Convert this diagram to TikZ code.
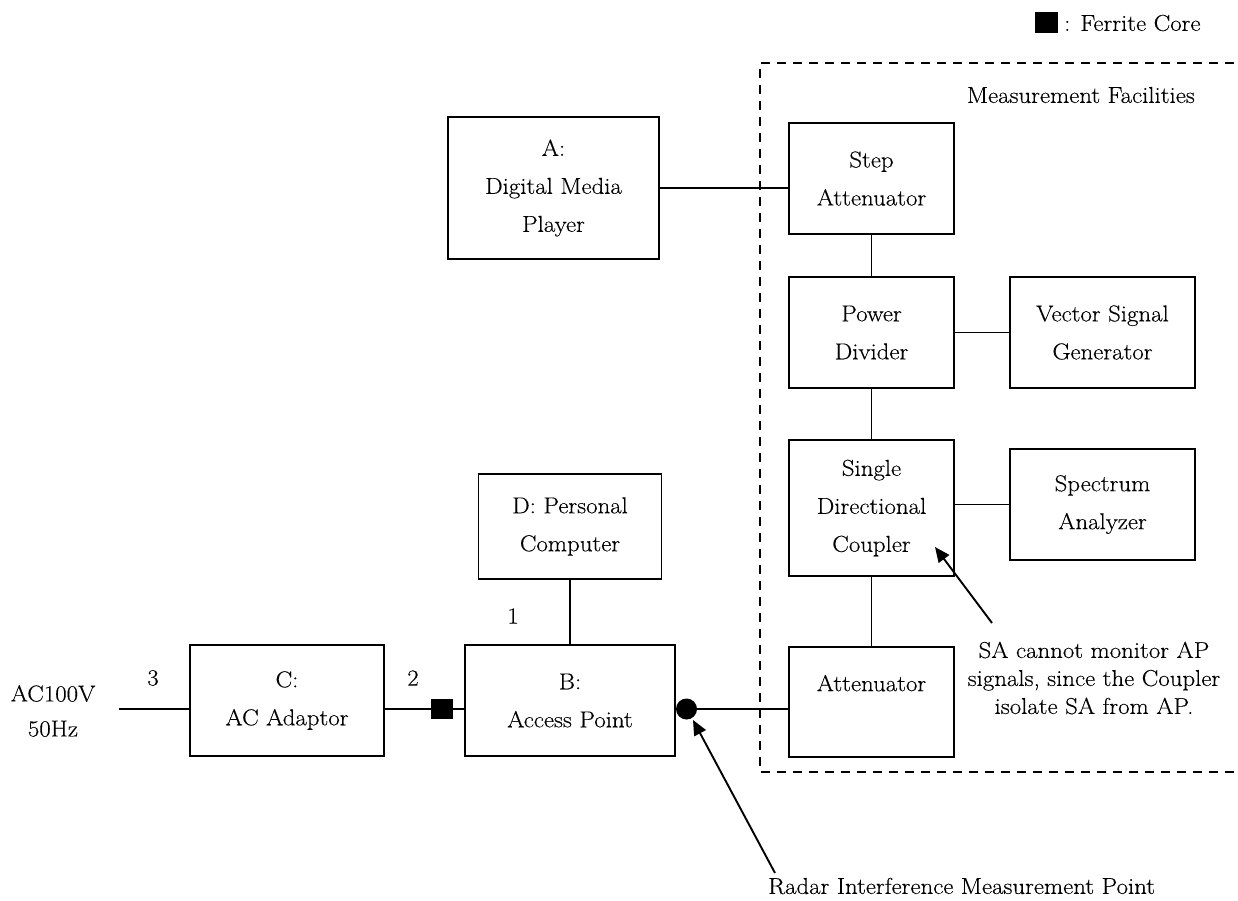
\documentclass[tikz,border=0pt]{standalone}
\usepackage{fontspec}
\setmainfont{Latin Modern Roman}[FakeStretch=1.08, FakeBold=0.3]
\usetikzlibrary{arrows.meta}
\begin{document}
\begin{tikzpicture}[x=1pt,y=-1pt,
  blk/.style={draw, line width=1.9pt, inner sep=0pt, align=center, font=\fontsize{23}{38}\selectfont},
  wire/.style={line width=1.9pt},
  lbl/.style={inner sep=0pt, font=\fontsize{23}{28}\selectfont, align=center},
  pointer/.style={line width=1.9pt, -{Triangle[length=15pt,width=13pt]}},
  frame/.style={line width=2pt, dash pattern=on 9pt off 7pt},
  core/.style={fill=black, inner sep=0pt, minimum width=22pt, minimum height=20pt},
  probe/.style={circle, fill=black, inner sep=0pt, minimum size=21pt}]
\useasboundingbox (0,0) rectangle (1238,901);

% measurement facilities frame
\draw[frame] (1250,63) -- (760,63) -- (760,772) -- (1250,772);
\node[lbl, anchor=east] (mf) at (1195,95) {Measurement Facilities};

% legend
\node[core, minimum width=23pt, minimum height=21pt] (lgsq) at (1046,23) {};
\node[lbl, anchor=west] (lgtx) at (1064,23) {: Ferrite Core};

% boxes
\node[blk, minimum width=211pt, minimum height=142pt] (A) at (553.5,188) {A:\\Digital Media\\Player};
\node[blk, minimum width=165pt, minimum height=111pt] (st) at (871.5,178.5) {Step\\Attenuator};
\node[blk, minimum width=165pt, minimum height=111pt] (pd) at (871.5,332.5) {Power\\Divider};
\node[blk, minimum width=185pt, minimum height=111pt] (vsg) at (1102.5,332.5) {Vector Signal\\Generator};
\node[blk, minimum width=165pt, minimum height=136pt] (cp) at (871.5,508) {Single\\Directional\\Coupler};
\node[blk, minimum width=185pt, minimum height=111pt] (sa) at (1102.5,504.5) {Spectrum\\Analyzer};
\node[blk, minimum width=165pt, minimum height=110pt] (att) at (871.5,702) {Attenuator\\\mbox{}};
\node[blk, minimum width=210pt, minimum height=111pt] (B) at (570,700.5) {B:\\Access Point};
\node[blk, minimum width=194pt, minimum height=111pt] (C) at (287,700.5) {C:\\AC Adaptor};
\node[blk, minimum width=183pt, minimum height=105pt] (D) at (570,526.5) {D: Personal\\Computer};

% main line level
\coordinate (ml) at (0,709);
\coordinate (acin) at (119,709);
\node[core] (fc) at (442,709) {};
\node[probe] (dot) at (686.5,709) {};

% connectors
\draw[wire] (A.east) -- (A.east -| st.west);
\draw[wire] (st.south) -- (pd.north);
\draw[wire] (pd.east) -- (vsg.west);
\draw[wire] (pd.south) -- (cp.north);
\draw[wire] (cp.east |- sa.west) -- (sa.west);
\draw[wire] (cp.south) -- (att.north);
\draw[wire] (D.south) -- (B.north);
\draw[wire] (acin) -- (C.west |- ml);
\draw[wire] (C.east |- ml) -- (fc.west);
\draw[wire] (fc.east) -- (B.west |- ml);
\draw[wire] (dot.center) -- (att.west |- ml);

% labels
\node[lbl] (n3) at (153,678) {3};
\node[lbl] (n2) at (413,678) {2};
\node[lbl] (n1) at (513,616) {1};
\node[lbl, font=\fontsize{23}{35}\selectfont] (ac) at (53,711) {AC100V\\50Hz};

% annotations
\node[lbl] (note) at (1094,678) {SA cannot monitor AP\\signals, since the Coupler\\isolate SA from AP.};
\coordinate (p1s) at (992,623);
\coordinate (p1e) at (935,547);
\draw[pointer] (p1s) -- (p1e);

\node[lbl, anchor=west] (radar) at (768,886) {Radar Interference Measurement Point};
\coordinate (p2s) at (775,873);
\coordinate (p2e) at (693,720);
\draw[pointer] (p2s) -- (p2e);
\end{tikzpicture}
\end{document}
